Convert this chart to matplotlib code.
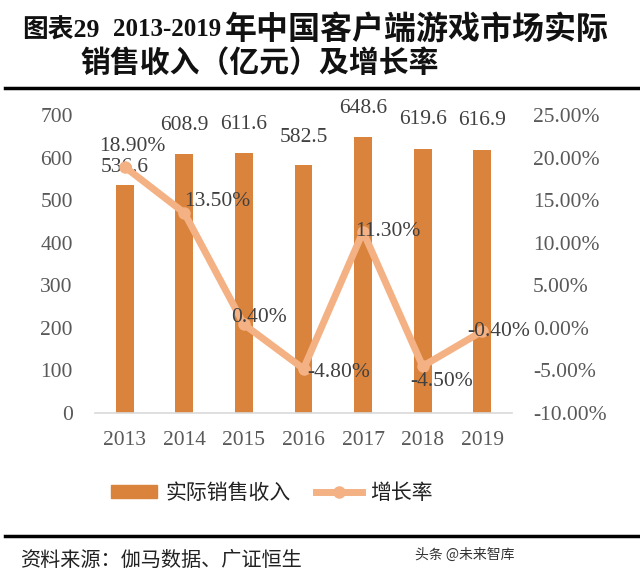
import matplotlib
matplotlib.use("Agg")
import matplotlib.pyplot as plt
from matplotlib.lines import Line2D
from matplotlib.patches import Patch
from matplotlib.ticker import FuncFormatter, MultipleLocator

plt.rcParams['axes.unicode_minus'] = False

years = ["2013", "2014", "2015", "2016", "2017", "2018", "2019"]
revenue = [536.6, 608.9, 611.6, 582.5, 648.6, 619.6, 616.9]
growth = [0.189, 0.135, 0.004, -0.048, 0.113, -0.045, -0.004]
growth_labels = ["18.90%", "13.50%", "0.40%", "-4.80%", "11.30%", "-4.50%", "-0.40%"]
rev_label_dy = [17, 28, 28, 28, 28, 30, 30]
growth_label_off = [(8, 20), (33, 11), (15, 7), (35, -4), (25, 0), (19, -15), (16, 0)]

BAR = "#D9833C"
LINE = "#F4B183"
TICK = "#595959"
LAB = "#404040"
SERIF = ["Liberation Serif", "Noto Sans CJK SC"]
CJK = ["Noto Sans CJK SC", "DejaVu Sans"]

fig = plt.figure(figsize=(6.4, 5.77), dpi=100)
W, H = 640, 577
ax = fig.add_axes([95 / W, 1 - 413 / H, (512 - 95) / W, (413 - 115) / H])
x = list(range(len(years)))
bars = ax.bar(x, revenue, width=0.3, color=BAR, zorder=2)
ax.set_xlim(-0.5, 6.5)
ax.set_ylim(0, 700)
ax.yaxis.set_major_locator(MultipleLocator(100))
ax.set_xticks(x)
ax.set_xticklabels(years)
for s in ["top", "left", "right"]:
    ax.spines[s].set_visible(False)
ax.spines["bottom"].set_color("#D9D9D9")
ax.spines["bottom"].set_linewidth(1.2)
ax.tick_params(axis="both", length=0, labelsize=15.5, labelcolor=TICK)
ax.tick_params(axis="y", pad=16)
ax.tick_params(axis="x", pad=13)
for lab in ax.get_xticklabels() + ax.get_yticklabels():
    lab.set_family(SERIF)

for xi, v, dy in zip(x, revenue, rev_label_dy):
    ax.annotate(f"{v:.1f}", (xi, v), xytext=(0, dy), textcoords="offset pixels",
                ha="center", va="center", fontsize=15.5, color=LAB, family=SERIF, zorder=5)

ax2 = ax.twinx()
ax2.set_ylim(-0.10, 0.25)
ax2.yaxis.set_major_locator(MultipleLocator(0.05))
ax2.yaxis.set_major_formatter(FuncFormatter(lambda v, p: f"{v*100:.2f}%"))
for s in ["top", "left", "right", "bottom"]:
    ax2.spines[s].set_visible(False)
ax2.tick_params(axis="y", length=0, labelsize=15.5, labelcolor=TICK, pad=15)
for lab in ax2.get_yticklabels():
    lab.set_family(SERIF)
ax2.plot(x, growth, color=LINE, lw=5, marker="o", markersize=8, zorder=3,
         solid_capstyle="round")
for xi, g, t, (dx, dy) in zip(x, growth, growth_labels, growth_label_off):
    ax2.annotate(t, (xi, g), xytext=(dx, dy), textcoords="offset pixels",
                 ha="center", va="center", fontsize=15.5, color=LAB, family=SERIF, zorder=5)

# Title
tkw = dict(fontweight="bold", ha="left", va="center", color="#111111")
fig.text(22 / W, 1 - 30 / H, "图表29", fontsize=18.5, family=SERIF, **tkw)
fig.text(113 / W, 1 - 30 / H, "2013-2019", fontsize=18, family=SERIF, **tkw)
fig.text(225 / W, 1 - 30 / H, "年中国客户端游戏市场实际", fontsize=23, family=CJK, **tkw)
fig.text(80 / W, 1 - 63 / H, "销售收入（亿元）及增长率", fontsize=21.5, family=CJK, **tkw)
fig.add_artist(Line2D([5 / W, 1], [1 - 88 / H] * 2, color="black", lw=2.5, transform=fig.transFigure))
fig.add_artist(Line2D([5 / W, 1], [1 - 536 / H] * 2, color="black", lw=2.5, transform=fig.transFigure))

handles = [Patch(color=BAR),
           Line2D([], [], color=LINE, lw=5, marker="o", markersize=8)]
fig.legend(handles, ["实际销售收入", "增长率"], loc="center", bbox_to_anchor=(272 / W, 1 - 493 / H),
           ncol=2, frameon=False, prop={"family": CJK, "size": 15}, handlelength=2.2,
           handleheight=0.6, columnspacing=1.2, handletextpad=0.4, labelcolor="#222222")

fig.text(20 / W, 1 - 560 / H, "资料来源：伽马数据、广证恒生", fontsize=14.5, family=CJK,
         ha="left", va="center", color="#222222")
fig.text(415 / W, 1 - 555 / H, "头条 @未来智库", fontsize=10, family=CJK,
         ha="left", va="center", color="#333333")

fig.savefig("out.png", dpi=100)
